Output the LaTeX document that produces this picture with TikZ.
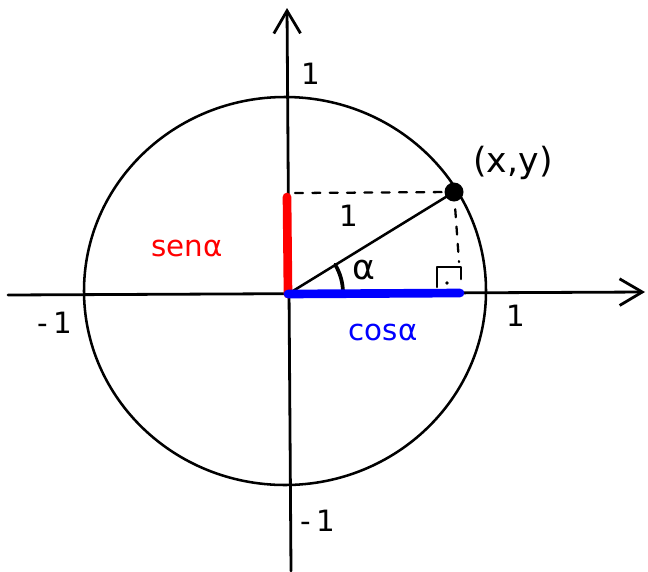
\documentclass[tikz,border=0pt]{standalone}
\usepackage{fontspec}
\setmainfont{DejaVu Sans}
\usetikzlibrary{arrows.meta}
\begin{document}
\begin{tikzpicture}[x=0.75pt,y=-0.75pt,line cap=round,line join=round,
  ax/.style={line width=2.1pt,-{Straight Barb[length=17pt,width=20pt,line width=2.1pt]}},
  thin/.style={line width=1.9pt},
  dashline/.style={line width=1.7pt,dash pattern=on 6pt off 7pt},
  lbl/.style={font=\fontsize{22}{26}\selectfont,inner sep=0pt}]
\useasboundingbox (0,0) rectangle (648,571);
\coordinate (O) at (288,294);
\coordinate (P) at (454,192);
\coordinate (XL) at (8,295);
\coordinate (XR) at (645,292);
\coordinate (YB) at (291,571);
\coordinate (YT) at (287,8);
\coordinate (S) at (287,197);
\coordinate (C) at (460,293);
% circle
\draw[thin] (285,291) ellipse [x radius=201, y radius=194];
% axes
\draw[ax] (XL) -- (XR);
\draw[ax] (YB) -- (YT);
% dashed projections
\draw[dashline] (295,193) -- (P);
\draw[dashline] (P) -- (459,262);
% right angle mark
\draw[thin] (437,287) -- (437,267) -- (461,267) -- (461,279);
\fill (447,283) circle [radius=1.8];
% radius
\draw[thin] (O) -- (P);
% angle arc
\draw[line width=2.8pt] (343,293) arc [start angle=0,end angle=-31,radius=55];
% sin and cos
\draw[red,line width=6.5pt] (S) -- (O);
\draw[blue,line width=6.5pt] (O) -- (C);
% point
\fill (P) circle [radius=9.5];
% labels
\node[lbl,font=\fontsize{26}{30}\selectfont] (lx) at (513,163) {(x,y)};
\node[lbl] (lr) at (349,216) {1};
\node[lbl,font=\fontsize{26}{30}\selectfont] (la) at (364,270) {α};
\node[lbl,red] (ls) at (187,248) {senα};
\node[lbl,blue] (lc) at (383,332) {cosα};
\node[lbl] (l1) at (516,316) {1};
\node[lbl] (lm1) at (55,323) {-\,1};
\node[lbl] (lt) at (311,74) {1};
\node[lbl] (lb) at (318,521) {-\,1};
\end{tikzpicture}
\end{document}
